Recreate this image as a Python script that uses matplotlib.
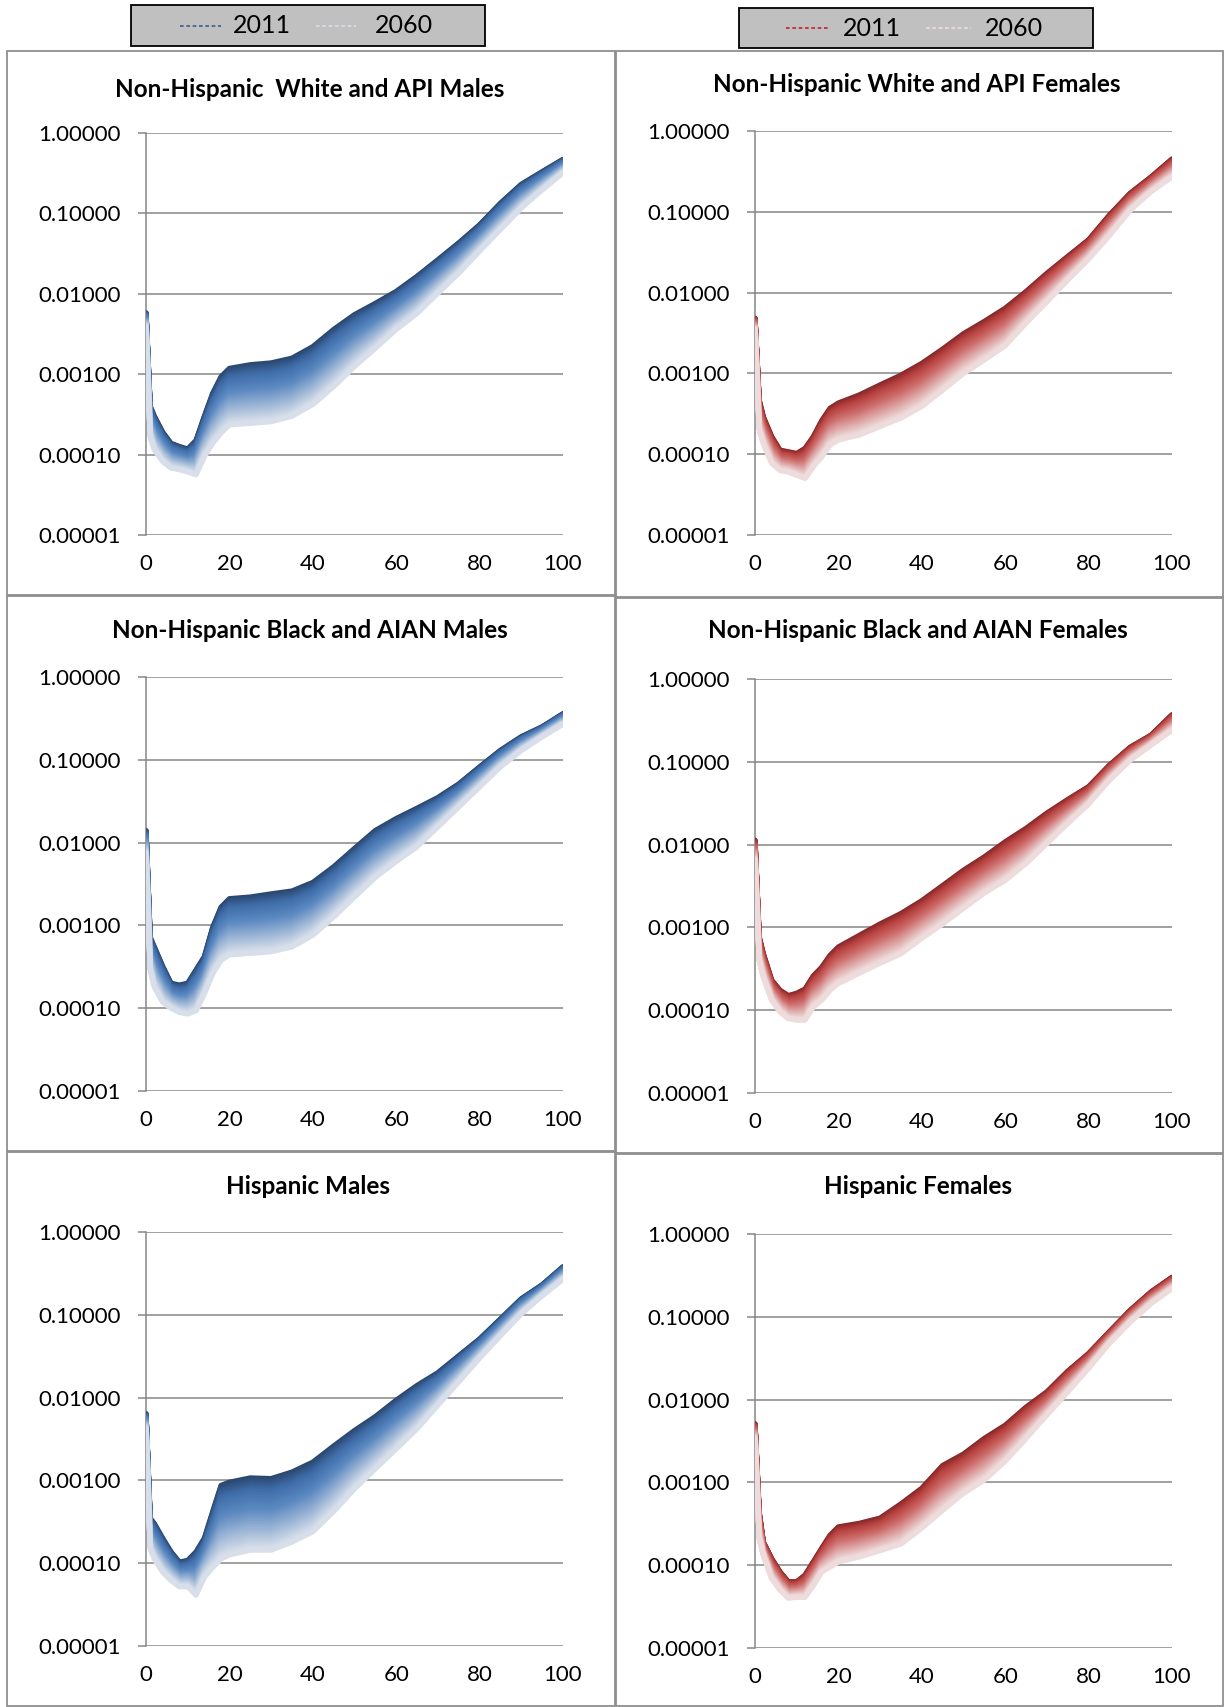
import numpy as np
import matplotlib
matplotlib.use('Agg')
import matplotlib.pyplot as plt
from matplotlib.colors import LinearSegmentedColormap
from matplotlib.patches import Rectangle
from matplotlib.lines import Line2D

plt.rcParams['font.family'] = ['Lato', 'DejaVu Sans']

# Edades en las que se leen las tasas de mortalidad
edades = [0, 1, 2, 4, 6, 8, 10, 12, 14, 16, 18, 20, 25, 30, 35, 40, 45, 50,
          55, 60, 65, 70, 75, 80, 85, 90, 95, 100]

anio_ini = 2011
anio_fin = 2060

# Tasas por panel: primer y ultimo anio de la proyeccion
blanco_h_2011 = [0.0058, 0.0004, 0.0003, 0.00019, 0.000138, 0.000126, 0.000117, 0.00015, 0.0003, 0.00058,
                 0.00093, 0.00118, 0.00131, 0.00138, 0.00158, 0.0022, 0.0036, 0.0055, 0.0076, 0.0107,
                 0.0165, 0.0265, 0.043, 0.072, 0.134, 0.23, 0.33, 0.47]
blanco_h_2060 = [0.0039, 0.000167, 0.000115, 0.000082, 0.000068, 0.000065, 0.000061, 0.000056, 0.000095, 0.000138,
                 0.000186, 0.000234, 0.000245, 0.000257, 0.0003, 0.00042, 0.0007, 0.00125, 0.0021, 0.0036,
                 0.0057, 0.0102, 0.018, 0.034, 0.063, 0.117, 0.196, 0.32]
blanco_m_2011 = [0.0048, 0.00047, 0.00029, 0.000165, 0.000112, 0.000107, 0.000102, 0.000118, 0.000165, 0.00026,
                 0.00037, 0.00043, 0.00054, 0.00072, 0.00095, 0.00133, 0.0020, 0.0031, 0.0044, 0.0064,
                 0.0103, 0.0173, 0.028, 0.045, 0.091, 0.17, 0.27, 0.45]
blanco_m_2060 = [0.0035, 0.0002, 0.000135, 0.000077, 0.000063, 0.00006, 0.000055, 0.00005, 0.00007, 0.000093,
                 0.00013, 0.00015, 0.000173, 0.00022, 0.00028, 0.00039, 0.00062, 0.001, 0.00147, 0.0022,
                 0.0042, 0.0077, 0.0143, 0.026, 0.051, 0.105, 0.178, 0.27]
negro_h_2011 = [0.014, 0.00072, 0.00055, 0.00032, 0.0002, 0.00019, 0.0002, 0.00029, 0.00042, 0.00095,
                0.00166, 0.0021, 0.0022, 0.0024, 0.0026, 0.0033, 0.0051, 0.0085, 0.014, 0.0195,
                0.026, 0.035, 0.051, 0.082, 0.13, 0.19, 0.25, 0.36]
negro_h_2060 = [0.0074, 0.00029, 0.00018, 0.000118, 0.0001, 0.000089, 0.000085, 0.000093, 0.00015, 0.00026,
                0.00038, 0.00044, 0.00046, 0.00048, 0.00055, 0.00076, 0.00126, 0.0022, 0.0038, 0.0059,
                0.0089, 0.0155, 0.027, 0.047, 0.082, 0.13, 0.19, 0.27]
negro_m_2011 = [0.0113, 0.00077, 0.00048, 0.00023, 0.000174, 0.00015, 0.00016, 0.00018, 0.00026, 0.00033,
                0.00046, 0.00058, 0.0008, 0.0011, 0.00147, 0.0021, 0.0032, 0.0049, 0.0071, 0.0108,
                0.0157, 0.024, 0.035, 0.05, 0.091, 0.15, 0.21, 0.37]
negro_m_2060 = [0.0065, 0.0004, 0.00025, 0.000132, 0.000095, 0.000079, 0.000076, 0.000076, 0.00011, 0.000132,
                0.000174, 0.00021, 0.00028, 0.00037, 0.00048, 0.00074, 0.0011, 0.0017, 0.0026, 0.0037,
                0.0059, 0.0103, 0.018, 0.031, 0.06, 0.105, 0.16, 0.24]
hisp_h_2011 = [0.0064, 0.00035, 0.0003, 0.0002, 0.000137, 0.000103, 0.000108, 0.000137, 0.0002, 0.00042,
               0.00087, 0.00095, 0.00107, 0.00105, 0.00126, 0.00166, 0.0026, 0.004, 0.0059, 0.0093,
               0.014, 0.020, 0.032, 0.051, 0.089, 0.156, 0.23, 0.38]
hisp_h_2060 = [0.0042, 0.00015, 0.000113, 0.000078, 0.000062, 0.000052, 0.000052, 0.000041, 0.000068, 0.000089,
               0.000113, 0.000126, 0.000144, 0.000144, 0.00018, 0.00024, 0.00042, 0.00079, 0.00138, 0.0024,
               0.0042, 0.0081, 0.0155, 0.03, 0.056, 0.103, 0.17, 0.27]
hisp_m_2011 = [0.0051, 0.00044, 0.00019, 0.00012, 0.000083, 0.000063, 0.000063, 0.000076, 0.00011, 0.00016,
               0.00023, 0.00029, 0.00032, 0.00037, 0.00055, 0.00085, 0.0016, 0.0022, 0.0034, 0.0049,
               0.0081, 0.0124, 0.022, 0.036, 0.066, 0.12, 0.20, 0.30]
hisp_m_2060 = [0.0034, 0.00021, 0.000132, 0.000069, 0.00005, 0.00004, 0.000041, 0.000041, 0.000057, 0.000083,
               0.000095, 0.00011, 0.000126, 0.00015, 0.00018, 0.00028, 0.00046, 0.00074, 0.00107, 0.0018,
               0.0034, 0.0065, 0.0124, 0.024, 0.048, 0.087, 0.145, 0.22]

titulos = ['Non-Hispanic  White and API Males', 'Non-Hispanic White and API Females',
           'Non-Hispanic Black and AIAN Males', 'Non-Hispanic Black and AIAN Females',
           'Hispanic Males', 'Hispanic Females']
series = [(blanco_h_2011, blanco_h_2060), (blanco_m_2011, blanco_m_2060),
          (negro_h_2011, negro_h_2060), (negro_m_2011, negro_m_2060),
          (hisp_h_2011, hisp_h_2060), (hisp_m_2011, hisp_m_2060)]

yticks = [0.00001, 0.0001, 0.001, 0.01, 0.1, 1.0]
xticks = [0, 20, 40, 60, 80, 100]

azul = LinearSegmentedColormap.from_list('azul', [(0, '#2a476f'), (0.18, '#3f6ca8'), (0.45, '#5a88c0'), (1, '#d8dfea')])
rojo = LinearSegmentedColormap.from_list('rojo', [(0, '#86282a'), (0.18, '#b8413f'), (0.45, '#cc6a68'), (1, '#eedcdd')])

W, H = 1225, 1707
fig = plt.figure(figsize=(W / 100, H / 100), dpi=100)
fig.patch.set_facecolor('white')

def fx(p):
    return p / W

def fy(p):
    return 1 - p / H

# marcos de cada panel (x0, y0, x1, y1) en pixeles
marcos = [(7, 51, 615, 595), (616, 51, 1223, 597),
          (7, 596, 615, 1151), (616, 598, 1223, 1153),
          (7, 1152, 615, 1706), (616, 1154, 1223, 1706)]
# area de graficado (x0, y_top, x1, y_bottom)
areas = [(146, 133, 563, 535), (755, 131, 1172, 535),
         (146, 677, 563, 1091), (755, 679, 1172, 1093),
         (146, 1232, 563, 1646), (755, 1234, 1172, 1648)]
pos_titulo = [(310, 97), (917, 92), (310, 638), (918, 638), (308, 1194), (918, 1194)]

for (x0, y0, x1, y1) in marcos:
    fig.add_artist(Rectangle((fx(x0), fy(y1)), fx(x1) - fx(x0), fy(y0) - fy(y1),
                             transform=fig.transFigure, fill=False,
                             edgecolor='#8f8f8f', lw=1.3))

anios = np.arange(anio_ini, anio_fin + 1)
gris = '#868686'

for i in range(6):
    x0, y0, x1, y1 = areas[i]
    ax = fig.add_axes([fx(x0), fy(y1), fx(x1) - fx(x0), fy(y0) - fy(y1)])
    cmap = azul if i % 2 == 0 else rojo
    v_ini = np.array(series[i][0])
    v_fin = np.array(series[i][1])
    # mejora anual constante entre 2011 y 2060
    for j, a in enumerate(anios):
        t = (a - anio_ini) / (anio_fin - anio_ini)
        tasas = v_ini * (v_fin / v_ini) ** t
        ax.plot(edades, tasas, color=cmap(t), lw=3.8,
                solid_capstyle='round', solid_joinstyle='round', zorder=3)
    ax.set_yscale('log')
    ax.set_ylim(0.00001, 1.0)
    ax.set_xlim(0, 100)
    ax.set_yticks(yticks)
    ax.set_yticklabels(['%.5f' % v for v in yticks])
    ax.minorticks_off()
    ax.set_xticks(xticks)
    ax.set_xticklabels([str(v) for v in xticks])
    ax.grid(axis='y', color=gris, lw=1.1)
    ax.set_axisbelow(True)
    for s in ['top', 'right', 'bottom']:
        ax.spines[s].set_visible(False)
    ax.spines['left'].set_color(gris)
    ax.spines['left'].set_linewidth(1.1)
    ax.tick_params(axis='y', length=6, width=1.1, color=gris, pad=12, labelsize=16)
    ax.tick_params(axis='x', length=0, pad=14, labelsize=16)
    ax.patch.set_alpha(0)
    tx, ty = pos_titulo[i]
    fig.text(fx(tx), fy(ty), titulos[i], ha='center', va='baseline',
             fontsize=17.5, fontweight='bold')

# leyendas de arriba
leyendas = [((131, 5, 485, 46), azul, (180, 221, 233), (316, 356, 375)),
            ((739, 8, 1093, 48), rojo, (786, 830, 843), (926, 971, 985))]
for (bx0, by0, bx1, by1), cmap, p1, p2 in leyendas:
    fig.add_artist(Rectangle((fx(bx0), fy(by1)), fx(bx1) - fx(bx0), fy(by0) - fy(by1),
                             transform=fig.transFigure, facecolor='#c0c0c0',
                             edgecolor='black', lw=1.3))
    yc = (by0 + by1) / 2
    for (d0, d1, tx), t, etiqueta in [(p1, 0.0, str(anio_ini)), (p2, 1.0, str(anio_fin))]:
        col = cmap(t) if t > 0 else ('#3b5e91' if cmap is azul else '#c8202a')
        fig.add_artist(Line2D([fx(d0), fx(d1)], [fy(yc), fy(yc)], transform=fig.transFigure,
                              color=col, lw=1.2, linestyle=(0, (2.2, 1.6))))
        fig.text(fx(tx), fy(yc), etiqueta, ha='left', va='center', fontsize=18)

fig.savefig('out.png', dpi=100, facecolor='white')
